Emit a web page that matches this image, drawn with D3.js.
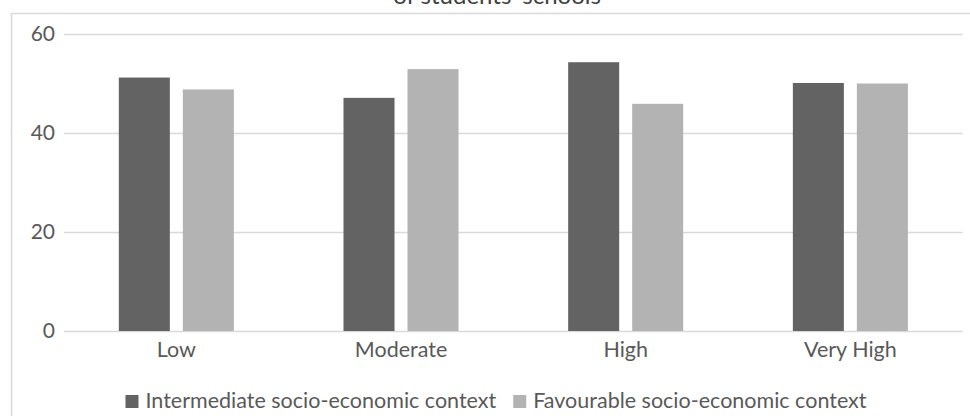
<!DOCTYPE html>
<html>
<head>
<meta charset="utf-8">
<script src="https://cdn.jsdelivr.net/npm/d3@7"></script>
<style>
  html, body { margin: 0; padding: 0; background: #fff; }
  svg { display: block; font-family: Lato, "Open Sans", sans-serif; }
</style>
</head>
<body>
<svg id="chart" width="970" height="416"></svg>
<script>
// Share of students by socio-economic context of their school
const categories = ["Low", "Moderate", "High", "Very High"];
const seriesNames = ["Intermediate socio-economic context", "Favourable socio-economic context"];
const intermediate = [51.2, 47.1, 54.3, 50.1];
const favourable = [48.8, 52.9, 45.9, 50.0];
const yTicks = [0, 20, 40, 60];
const titleText = "of students' schools";

const colors = ["#636363", "#b3b3b3"];
const textColor = "#595959";
const gridColor = "#d9d9d9";

const svg = d3.select("#chart");
const W = 970, H = 416;

svg.append("rect").attr("width", W).attr("height", H).attr("fill", "#fff");

// chart area frame (continues past the visible window on the right and bottom)
svg.append("rect")
  .attr("x", 11.5).attr("y", 13.5)
  .attr("width", 980).attr("height", 420)
  .attr("fill", "none").attr("stroke", gridColor).attr("stroke-width", 1.5);

// title (only its second line falls inside the window)
svg.append("text")
  .attr("x", 497).attr("y", 3.5)
  .attr("text-anchor", "middle")
  .attr("font-size", 24)
  .attr("fill", "#404040")
  .text(titleText);

const plot = { left: 64, right: 962.7, top: 34, bottom: 331 };

const x0 = d3.scaleBand()
  .domain(categories)
  .range([plot.left, plot.right])
  .paddingInner(0.488)
  .paddingOuter(0.244);

const x1 = d3.scaleBand()
  .domain(seriesNames)
  .range([0, x0.bandwidth()])
  .paddingInner(0.203)
  .paddingOuter(0);

const y = d3.scaleLinear().domain([0, 60]).range([plot.bottom, plot.top]);

// gridlines + value labels
const yAxis = d3.axisLeft(y)
  .tickValues(yTicks)
  .tickSize(-(plot.right - plot.left))
  .tickPadding(9)
  .tickFormat(d3.format("d"));

const gy = svg.append("g")
  .attr("transform", `translate(${plot.left},0)`)
  .call(yAxis);
gy.select(".domain").remove();
gy.selectAll(".tick line").attr("stroke", gridColor).attr("stroke-width", 1.6);
gy.selectAll(".tick text")
  .attr("fill", textColor)
  .attr("font-size", 21)
  .attr("font-family", "Lato, sans-serif");

// bars
const rows = categories.map((c, i) => ({ cat: c, values: [intermediate[i], favourable[i]] }));

const groups = svg.append("g").selectAll("g")
  .data(rows)
  .join("g")
  .attr("transform", d => `translate(${x0(d.cat)},0)`);

groups.selectAll("rect")
  .data(d => d.values.map((v, j) => ({ key: seriesNames[j], value: v, j })))
  .join("rect")
  .attr("x", d => x1(d.key))
  .attr("width", x1.bandwidth())
  .attr("y", d => y(d.value))
  .attr("height", d => y(0) - y(d.value))
  .attr("fill", d => colors[d.j]);

// category axis
const xAxis = d3.axisBottom(x0).tickSize(0).tickPadding(0);
const gx = svg.append("g")
  .attr("transform", `translate(0,${plot.bottom})`)
  .call(xAxis);
gx.select(".domain").remove();
gx.selectAll(".tick text")
  .attr("fill", textColor)
  .attr("font-size", 21.5)
  .attr("font-family", "Lato, sans-serif")
  .attr("dy", null)
  .attr("y", 26);

// legend, centred under the plot
const legend = svg.append("g");
const items = legend.selectAll("g")
  .data(seriesNames)
  .join("g");
items.append("rect")
  .attr("width", 13).attr("height", 13)
  .attr("y", -13)
  .attr("fill", (d, i) => colors[i]);
items.append("text")
  .attr("x", 20)
  .attr("fill", textColor)
  .attr("font-size", 21.5)
  .text(d => d);

let offset = 0;
const widths = [];
items.each(function () {
  const w = 20 + this.querySelector("text").getComputedTextLength();
  widths.push(w);
});
const gap = 17;
const total = d3.sum(widths) + gap * (widths.length - 1);
items.attr("transform", (d, i) => {
  const x = offset;
  offset += widths[i] + gap;
  return `translate(${x},0)`;
});
legend.attr("transform", `translate(${496 - total / 2},408)`);
</script>
</body>
</html>
